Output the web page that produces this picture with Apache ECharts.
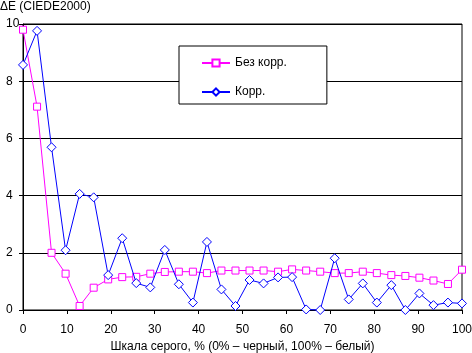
<!DOCTYPE html>
<html>
<head>
<meta charset="utf-8">
<script src="https://cdn.jsdelivr.net/npm/echarts@6/dist/echarts.min.js"></script>
<style>
  html, body { margin: 0; padding: 0; background: #fff; }
  #chart { width: 472px; height: 353px; }
</style>
</head>
<body>
<div id="chart"></div>
<script>
const grayLevels = [0, 3.2, 6.5, 9.7, 12.9, 16.1, 19.4, 22.6, 25.8, 29.0, 32.3, 35.5, 38.7, 41.9, 45.2, 48.4,
  51.6, 54.8, 58.1, 61.3, 64.5, 67.7, 71.0, 74.2, 77.4, 80.6, 83.9, 87.1, 90.3, 93.5, 96.8, 100];
const noCorr = [9.80, 7.11, 2.00, 1.27, 0.14, 0.78, 1.07, 1.15, 1.16, 1.27, 1.33, 1.34, 1.34, 1.29, 1.38, 1.38,
  1.38, 1.38, 1.34, 1.42, 1.38, 1.34, 1.29, 1.29, 1.34, 1.29, 1.22, 1.19, 1.13, 1.03, 0.91, 1.41];
const withCorr = [8.57, 9.76, 5.69, 2.09, 4.06, 3.94, 1.22, 2.51, 0.94, 0.79, 2.10, 0.90, 0.26, 2.38, 0.72, 0.14,
  1.05, 0.93, 1.14, 1.15, 0.02, 0.00, 1.81, 0.37, 0.93, 0.26, 0.87, 0.00, 0.58, 0.17, 0.26, 0.23];
const seriesNames = ['Без корр.', 'Корр.'];
const seriesColors = ['#ff00ff', '#0000ff'];

const font = 'Arial, "Liberation Sans", sans-serif';
const chart = echarts.init(document.getElementById('chart'));

function pairs(values) {
  return values.map((v, i) => [grayLevels[i], v]);
}

chart.setOption({
  animation: false,
  textStyle: { fontFamily: font, color: '#000' },
  title: {
    text: 'ΔE (CIEDE2000)',
    left: 0,
    top: 1,
    padding: 0,
    textStyle: { fontSize: 12, fontWeight: 'normal', color: '#000', fontFamily: font }
  },
  grid: {
    left: 23,
    right: 10,
    top: 24,
    bottom: 43,
    outerBoundsMode: 'none',
    containLabel: false,
    show: true,
    borderColor: '#000',
    borderWidth: 1
  },
  legend: {
    orient: 'vertical',
    left: 179,
    top: 46,
    width: 130,
    backgroundColor: '#fff',
    borderColor: '#000',
    borderWidth: 1,
    borderRadius: 0,
    padding: [11, 40, 6, 22],
    itemGap: 17,
    itemWidth: 28,
    itemHeight: 9,
    textStyle: { fontSize: 12, color: '#000', fontFamily: font },
    data: seriesNames
  },
  xAxis: {
    type: 'value',
    min: 0,
    max: 100,
    interval: 10,
    name: 'Шкала серого, % (0% – черный, 100% – белый)',
    nameLocation: 'middle',
    nameGap: 31,
    nameTextStyle: { fontSize: 12, color: '#000', fontFamily: font },
    axisLine: { lineStyle: { color: '#000', width: 1 } },
    axisTick: { show: true, length: 4, lineStyle: { color: '#000' } },
    axisLabel: { fontSize: 12, color: '#000', margin: 14, fontFamily: font },
    splitLine: { show: false }
  },
  yAxis: {
    type: 'value',
    min: 0,
    max: 10,
    interval: 2,
    axisLine: { show: true, lineStyle: { color: '#000', width: 1 } },
    axisTick: { show: true, length: 4, lineStyle: { color: '#000' } },
    axisLabel: { fontSize: 12, color: '#000', margin: 17, align: 'left', fontFamily: font },
    splitLine: { show: true, lineStyle: { color: '#000', width: 1 } }
  },
  series: [{
    name: seriesNames[0],
    type: 'line',
    data: pairs(noCorr),
    symbol: 'rect',
    symbolSize: 7,
    clip: false,
    lineStyle: { width: 1, color: seriesColors[0] },
    itemStyle: { color: '#fff', borderColor: seriesColors[0], borderWidth: 1 },
    z: 3
  }, {
    name: seriesNames[1],
    type: 'line',
    data: pairs(withCorr),
    symbol: 'diamond',
    symbolSize: 9,
    clip: false,
    lineStyle: { width: 1, color: seriesColors[1] },
    itemStyle: { color: '#fff', borderColor: seriesColors[1], borderWidth: 1 },
    z: 4
  }]
});
</script>
</body>
</html>
